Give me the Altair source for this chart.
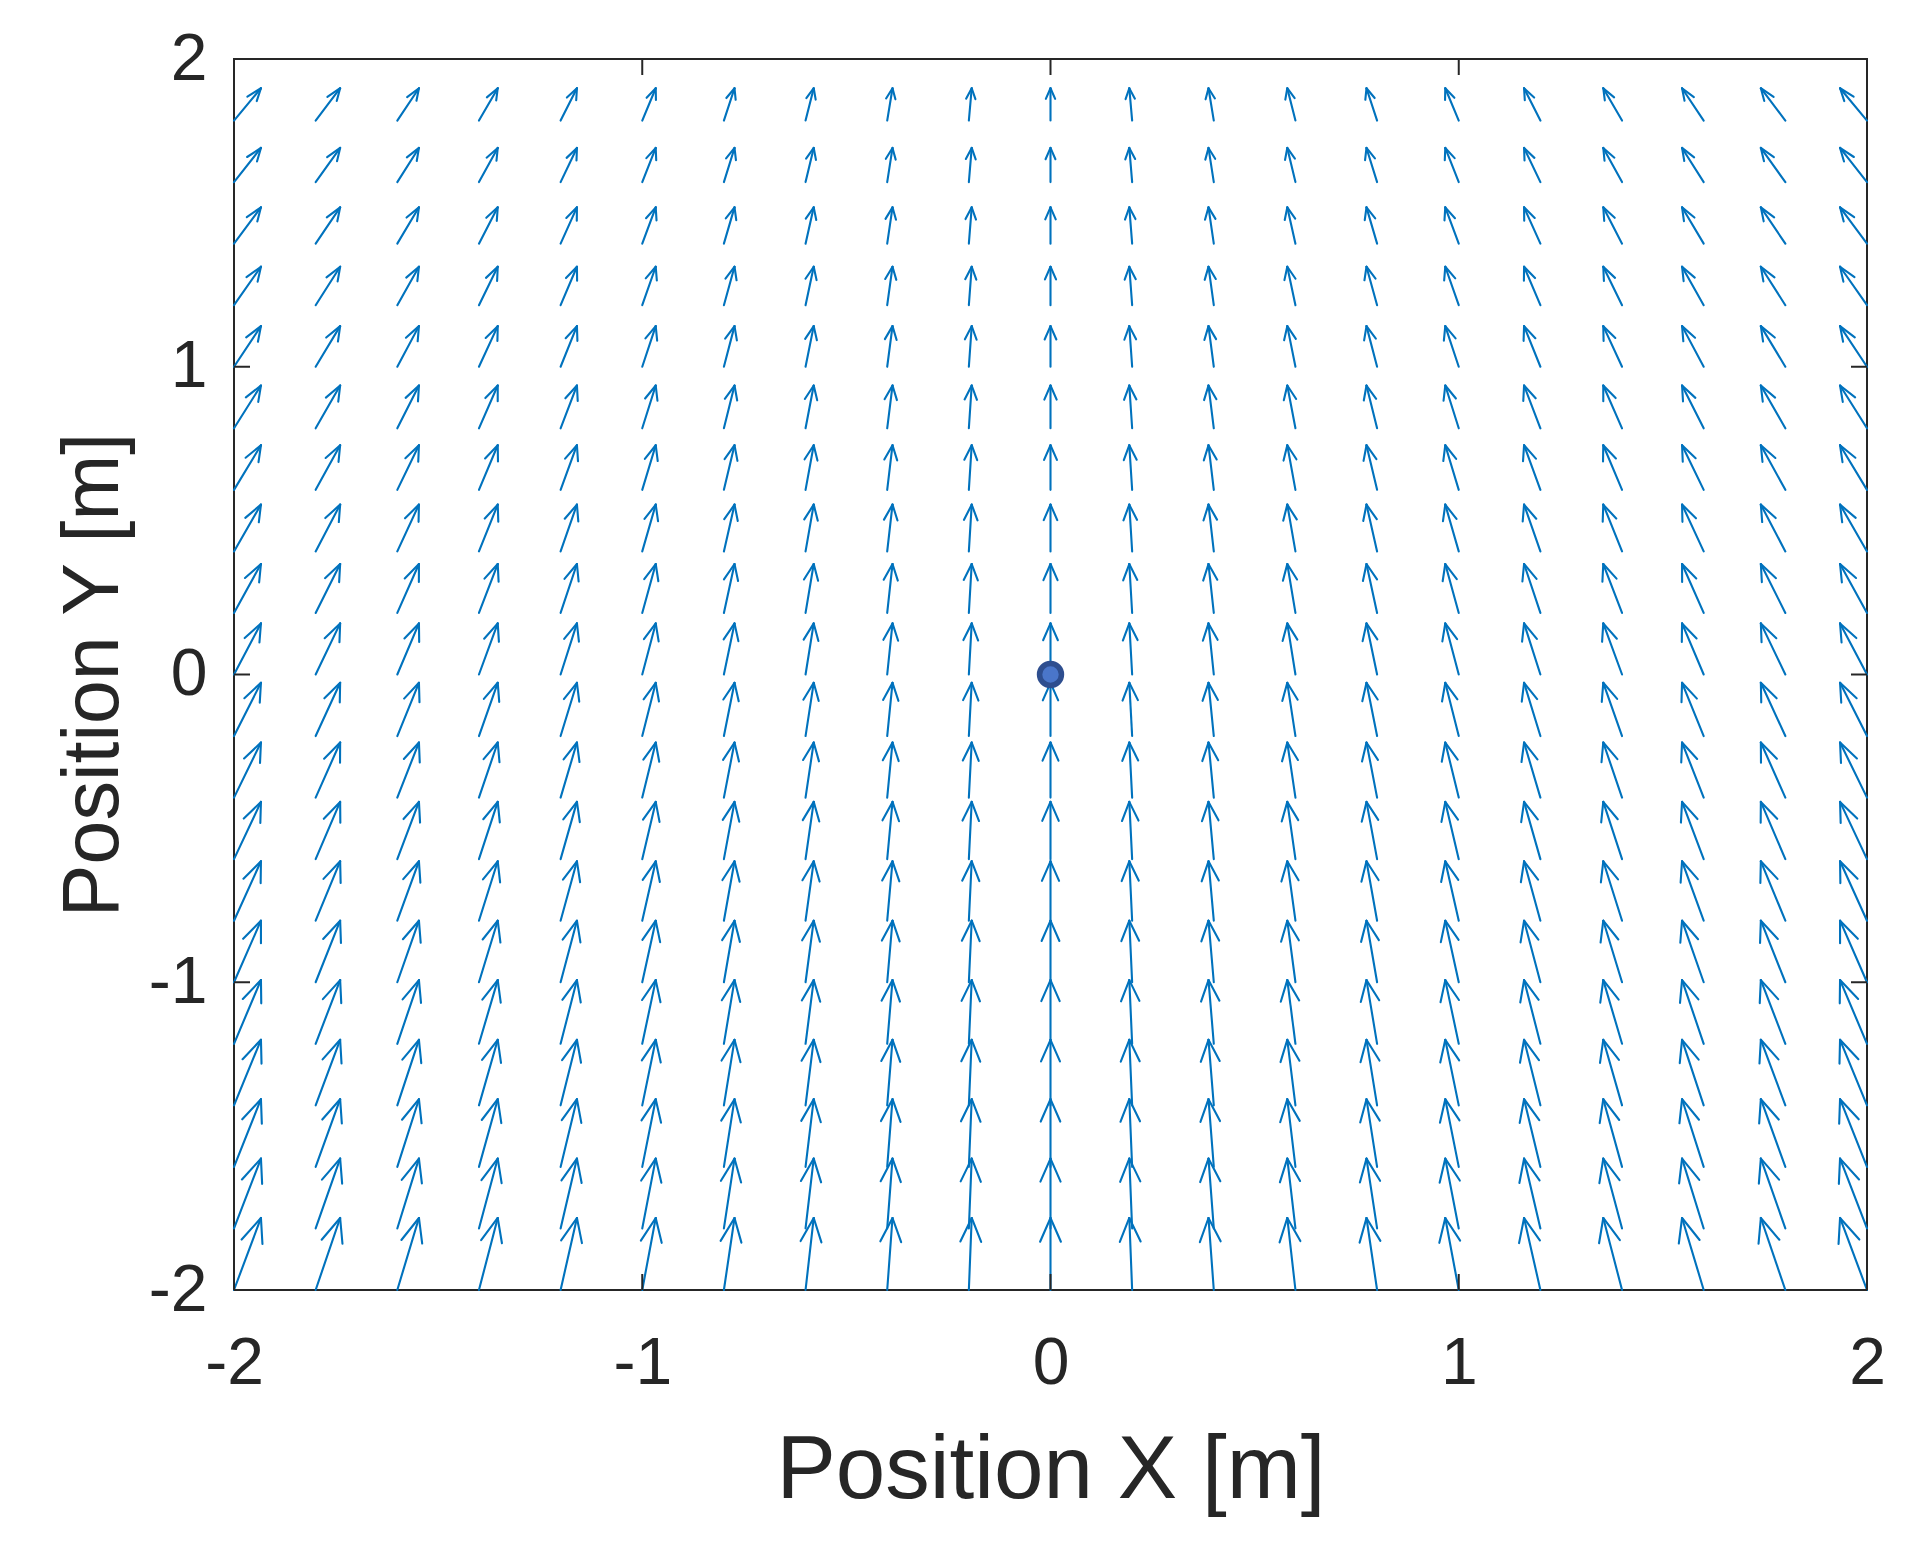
import altair as alt
import pandas as pd

# ---- data ----
x_positions = [-2.0, -1.8, -1.6, -1.4, -1.2, -1.0, -0.8, -0.6, -0.4, -0.2, 0.0,
               0.2, 0.4, 0.6, 0.8, 1.0, 1.2, 1.4, 1.6, 1.8, 2.0]
y_positions = [-2.0, -1.8, -1.6, -1.4, -1.2, -1.0, -0.8, -0.6, -0.4, -0.2,
               0.0, 0.2, 0.4, 0.6, 0.8, 1.0, 1.2, 1.4, 1.6, 1.8]
# horizontal arrow component (per column) and vertical component (per row), data units
u_by_column = [0.066, 0.060, 0.053, 0.046, 0.040, 0.033, 0.026, 0.020, 0.013, 0.007, 0.0,
               -0.007, -0.013, -0.020, -0.026, -0.033, -0.040, -0.046, -0.053, -0.060, -0.066]
v_by_row = [0.234, 0.227, 0.220, 0.213, 0.207, 0.200, 0.193, 0.186, 0.179, 0.173,
            0.166, 0.159, 0.152, 0.145, 0.139, 0.132, 0.125, 0.118, 0.111, 0.105]
tick_values = [-2, -1, 0, 1, 2]
robot_x = [0.0]
robot_y = [0.0]

rows = []
for xi, ui in zip(x_positions, u_by_column):
    for yj, vj in zip(y_positions, v_by_row):
        rows.append({"x": xi, "y": yj, "u": ui, "v": vj})
field = pd.DataFrame(rows)
ticks = pd.DataFrame({"t": tick_values})
robot = pd.DataFrame({"px": robot_x, "py": robot_y})

W, H = 1633, 1231
FONT = "Liberation Sans"
TXT = "#262626"
BLUE = "#0072BD"
TICK_LEN = 16

xs = alt.Scale(domain=[-2, 2], nice=False, zero=False)
ys = alt.Scale(domain=[-2, 2], nice=False, zero=False)

xaxis = alt.Axis(values=tick_values, title="Position X [m]", ticks=False, tickSize=0,
                 domain=False, grid=False, labelFlush=False, labelOverlap=False,
                 labelFont=FONT, labelFontSize=66, labelColor=TXT, labelPadding=41,
                 labelExpr="'' + datum.value",
                 titleFont=FONT, titleFontSize=89, titleColor=TXT, titleFontWeight="normal",
                 titleBaseline="alphabetic", titleY=207)
yaxis = alt.Axis(values=tick_values, title="Position Y [m]", ticks=False, tickSize=0,
                 domain=False, grid=False, labelFlush=False, labelOverlap=False,
                 labelFont=FONT, labelFontSize=66, labelColor=TXT, labelPadding=27,
                 labelExpr="'' + datum.value",
                 titleFont=FONT, titleFontSize=79, titleColor=TXT, titleFontWeight="normal",
                 titleBaseline="alphabetic", titleAngle=270, titleX=-117)

ALPHA, BETA = 0.33, 0.33
base = alt.Chart(field).transform_calculate(
    tipx="datum.x + datum.u",
    tipy="datum.y + datum.v",
    h1x=f"datum.x + datum.u - {ALPHA}*(datum.u + {BETA}*datum.v)",
    h1y=f"datum.y + datum.v - {ALPHA}*(datum.v - {BETA}*datum.u)",
    h2x=f"datum.x + datum.u - {ALPHA}*(datum.u - {BETA}*datum.v)",
    h2y=f"datum.y + datum.v - {ALPHA}*(datum.v + {BETA}*datum.u)",
)
rule_style = dict(color=BLUE, strokeWidth=2.1, strokeCap="round")

shafts = base.mark_rule(**rule_style).encode(
    x=alt.X("x:Q", scale=xs, axis=xaxis), y=alt.Y("y:Q", scale=ys, axis=yaxis),
    x2="tipx:Q", y2="tipy:Q")
head1 = base.mark_rule(**rule_style).encode(
    x=alt.X("tipx:Q", scale=xs, axis=xaxis), y=alt.Y("tipy:Q", scale=ys, axis=yaxis),
    x2="h1x:Q", y2="h1y:Q")
head2 = base.mark_rule(**rule_style).encode(
    x=alt.X("tipx:Q", scale=xs, axis=xaxis), y=alt.Y("tipy:Q", scale=ys, axis=yaxis),
    x2="h2x:Q", y2="h2y:Q")

tick_style = dict(color=TXT, strokeWidth=2)
xt_bottom = alt.Chart(ticks).mark_rule(**tick_style).encode(
    x=alt.X("t:Q", scale=xs, axis=xaxis), y=alt.value(H), y2=alt.value(H - TICK_LEN))
xt_top = alt.Chart(ticks).mark_rule(**tick_style).encode(
    x=alt.X("t:Q", scale=xs, axis=xaxis), y=alt.value(0), y2=alt.value(TICK_LEN))
yt_left = alt.Chart(ticks).mark_rule(**tick_style).encode(
    y=alt.Y("t:Q", scale=ys, axis=yaxis), x=alt.value(0), x2=alt.value(TICK_LEN))
yt_right = alt.Chart(ticks).mark_rule(**tick_style).encode(
    y=alt.Y("t:Q", scale=ys, axis=yaxis), x=alt.value(W), x2=alt.value(W - TICK_LEN))

dot = alt.Chart(robot).mark_point(filled=True, shape="circle", fill="#4A76CA",
                                  stroke="#2E4E8F", strokeWidth=5.5, size=480, opacity=1).encode(
    x=alt.X("px:Q", scale=xs, axis=xaxis), y=alt.Y("py:Q", scale=ys, axis=yaxis))

chart = alt.layer(shafts, head1, head2, xt_bottom, xt_top, yt_left, yt_right, dot).properties(
    width=W, height=H,
    autosize=alt.AutoSizeParams(type="none"),
    padding={"left": 226, "top": 51, "right": 56, "bottom": 270},
    background="white",
).configure_view(stroke=TXT, strokeWidth=2)

chart.save("out.html", embed_options={"renderer": "svg", "actions": False})
